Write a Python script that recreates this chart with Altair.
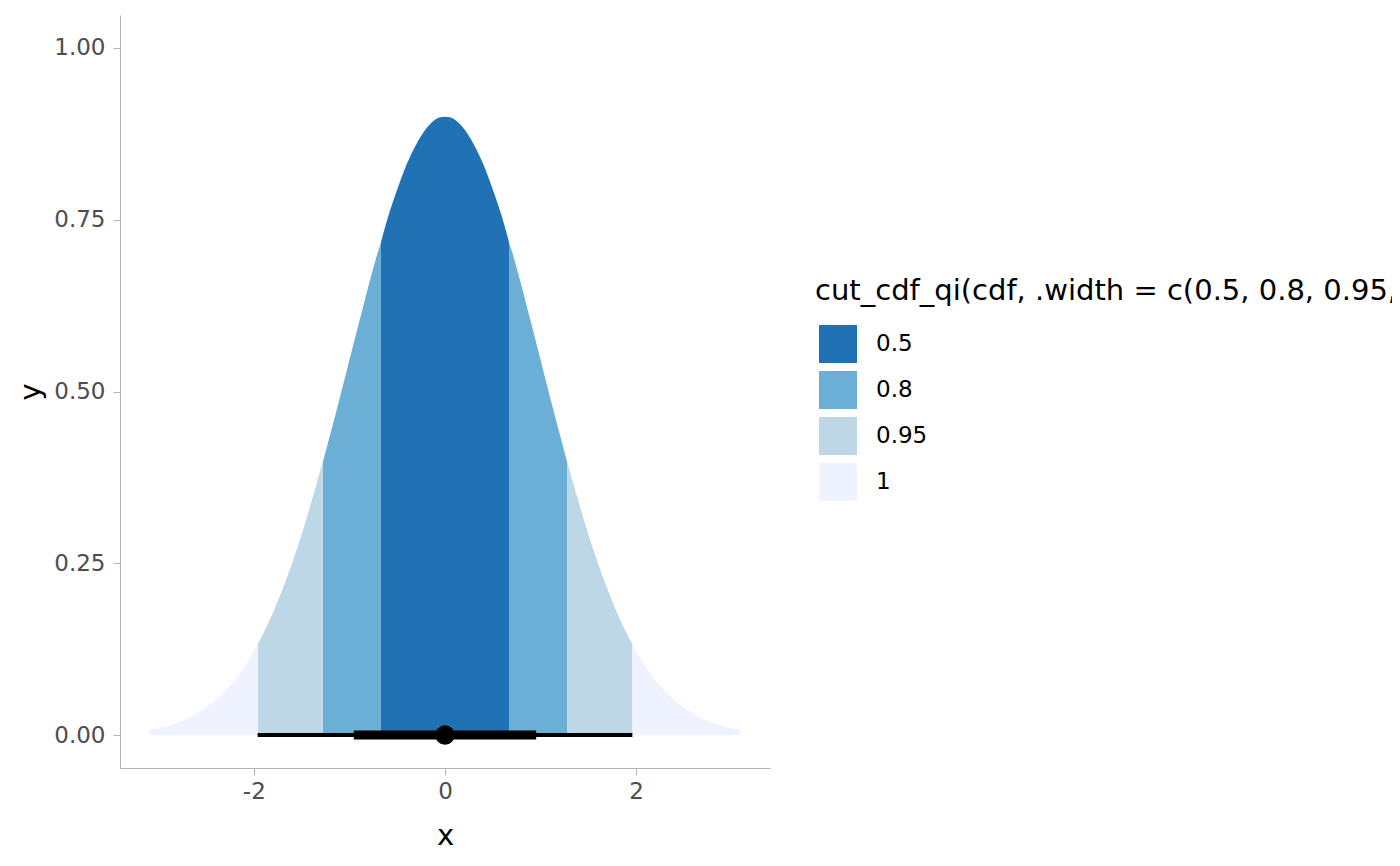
import altair as alt
import pandas as pd

# slab: density (scaled so the peak is 0.9)
x_vals = [-3.09, -3.0, -2.9, -2.8, -2.7, -2.6, -2.5, -2.4, -2.3, -2.2, -2.1, -2.0, -1.96,
          -1.9, -1.8, -1.7, -1.6, -1.5, -1.4, -1.3, -1.28, -1.2, -1.1, -1.0, -0.9, -0.8,
          -0.7, -0.67, -0.6, -0.5, -0.4, -0.3, -0.2, -0.15, -0.1, -0.05, 0.0,
          0.05, 0.1, 0.15, 0.2, 0.3, 0.4, 0.5, 0.6, 0.67, 0.7, 0.8, 0.9, 1.0, 1.1, 1.2, 1.28, 1.3,
          1.4, 1.5, 1.6, 1.7, 1.8, 1.9, 1.96, 2.0, 2.1, 2.2, 2.3, 2.4, 2.5, 2.6, 2.7,
          2.8, 2.9, 3.0, 3.09]
y_vals = [0.0076, 0.010, 0.013, 0.018, 0.023, 0.031, 0.040, 0.051, 0.064, 0.080, 0.099, 0.122, 0.132,
          0.148, 0.178, 0.212, 0.250, 0.292, 0.338, 0.387, 0.396, 0.438, 0.491, 0.546, 0.600, 0.654,
          0.704, 0.717, 0.752, 0.794, 0.831, 0.860, 0.882, 0.890, 0.896, 0.899, 0.900,
          0.899, 0.896, 0.890, 0.882, 0.860, 0.831, 0.794, 0.752, 0.717, 0.704, 0.654, 0.600, 0.546, 0.491, 0.438, 0.396, 0.387,
          0.338, 0.292, 0.250, 0.212, 0.178, 0.148, 0.132, 0.122, 0.099, 0.080, 0.064, 0.051, 0.040, 0.031, 0.023,
          0.018, 0.013, 0.010, 0.0076]

# cut_cdf_qi bands and their half-widths on x
band_levels = ["0.5", "0.8", "0.95", "1"]
band_edges = [0.67, 1.28, 1.96, 3.09]
band_colors = ["#2171b5", "#6baed6", "#bdd7e7", "#eff3ff"]

# point + interval summary
interval_widths = [0.95, 0.66]
interval_lo = [-1.96, -0.954]
interval_hi = [1.96, 0.954]
point_x = [0.0]

legend_title = "cut_cdf_qi(cdf, .width = c(0.5, 0.8, 0.95, 1))"

rows = []
inner = 0.0
for level, outer in zip(band_levels, band_edges):
    for side in ("L", "R"):
        if inner == 0 and side == "R":
            continue
        for xv, yv in zip(x_vals, y_vals):
            if inner == 0:
                keep = -outer <= xv <= outer
            elif side == "L":
                keep = -outer <= xv <= -inner
            else:
                keep = inner <= xv <= outer
            if keep:
                rows.append({"x": xv, "y": yv, "band": level, "seg": level + side})
    inner = outer
slab_df = pd.DataFrame(rows)

interval_df = pd.DataFrame({"lo": interval_lo, "hi": interval_hi,
                            "width": interval_widths, "y": 0.0})
point_df = pd.DataFrame({"x": point_x, "y": 0.0})

x_scale = alt.Scale(domain=[-3.40, 3.40], nice=False, zero=False)
y_scale = alt.Scale(domain=[-0.048, 1.048], nice=False, zero=False)

slab = alt.Chart(slab_df).mark_area(interpolate="monotone", opacity=1).encode(
    x=alt.X("x:Q", scale=x_scale,
            axis=alt.Axis(values=[-2, 0, 2], labelExpr="toString(datum.value)",
                          labelPadding=5, titlePadding=18),
            title="x"),
    y=alt.Y("y:Q", scale=y_scale, stack=None,
            axis=alt.Axis(values=[0, 0.25, 0.5, 0.75, 1], format=".2f",
                          labelPadding=8, titlePadding=8),
            title="y"),
    y2=alt.datum(0),
    color=alt.Color("band:N", title=legend_title,
                    scale=alt.Scale(domain=band_levels, range=band_colors),
                    legend=alt.Legend(orient="none", legendX=695, legendY=262)),
    detail="seg:N",
)

interval = alt.Chart(interval_df).mark_rule(color="black").encode(
    x="lo:Q",
    x2="hi:Q",
    y="y:Q",
    strokeWidth=alt.StrokeWidth("width:Q", legend=None,
                                scale=alt.Scale(domain=[0.66, 0.95], range=[9, 4])),
)

point = alt.Chart(point_df).mark_circle(color="black", opacity=1, size=380).encode(
    x="x:Q",
    y="y:Q",
)

chart = (slab + interval + point).properties(
    width=650,
    height=753,
    autosize=alt.AutoSizeParams(type="none"),
    padding={"left": 112, "top": 7, "right": 622, "bottom": 90},
    background="white",
).configure_view(
    stroke=None
).configure_axis(
    grid=False,
    domainColor="#b3b3b3",
    tickColor="#b3b3b3",
    tickSize=7,
    labelColor="#4d4d4d",
    labelFont="DejaVu Sans",
    labelFontSize=23,
    titleFont="DejaVu Sans",
    titleFontSize=29,
    titleFontWeight="normal",
    titleColor="black",
).configure_legend(
    titleFont="DejaVu Sans",
    titleFontSize=29,
    titleFontWeight="normal",
    titleColor="black",
    titleLimit=2000,
    titlePadding=19,
    labelFont="DejaVu Sans",
    labelFontSize=23,
    labelColor="black",
    labelOffset=19,
    symbolType="square",
    symbolSize=1444,
    symbolStrokeWidth=0,
    symbolOpacity=1,
    symbolOffset=4,
    rowPadding=8,
)

chart.save("out.html", embed_options={"renderer": "svg", "actions": False})
